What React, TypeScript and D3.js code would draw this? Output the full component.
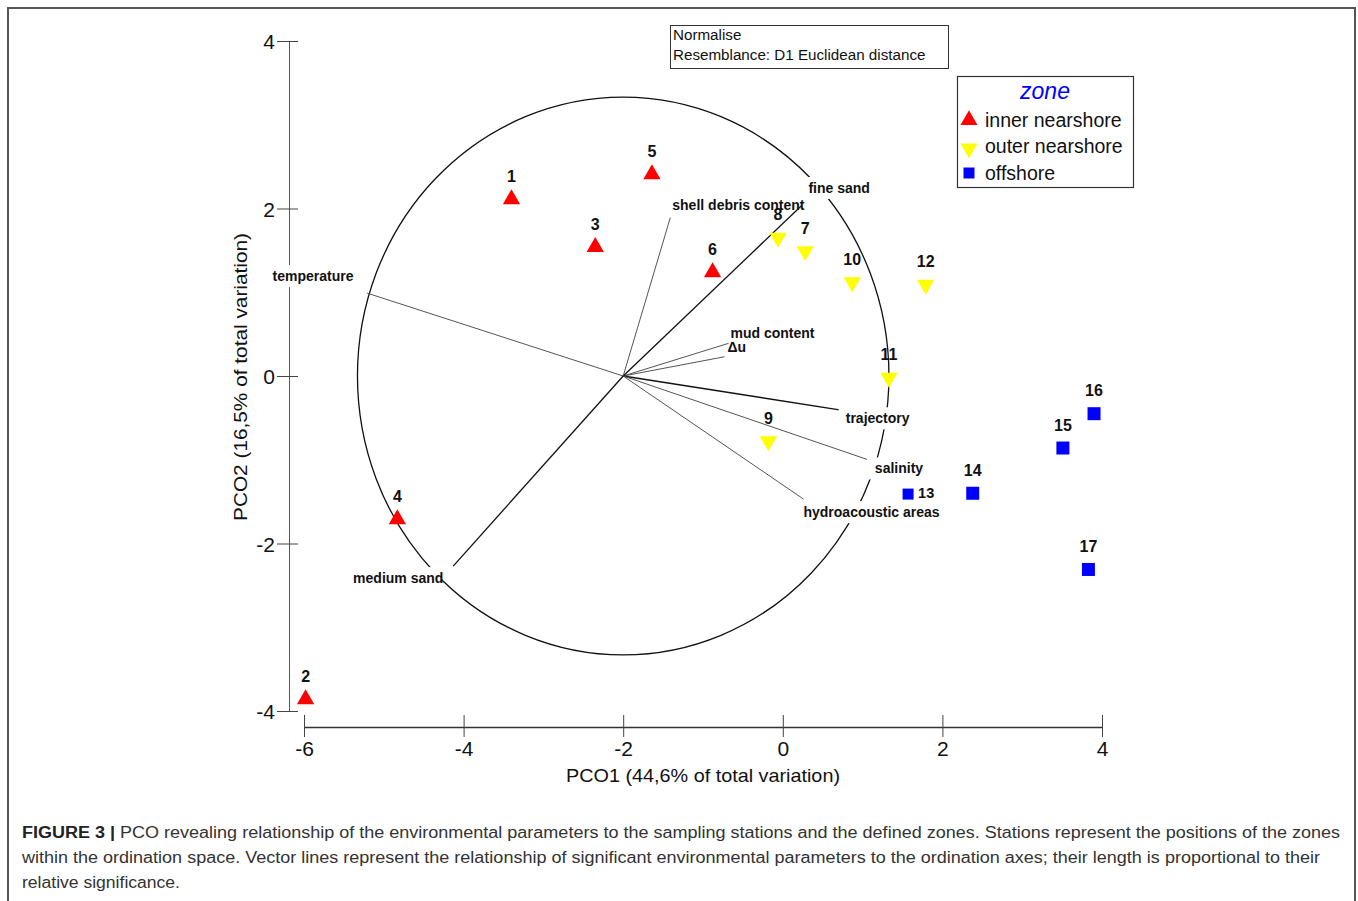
import React, { useEffect, useRef } from "react";
import * as d3 from "d3";

// station scores on PCO1 / PCO2
const stations = ["1", "2", "3", "4", "5", "6", "7", "8", "9", "10", "11", "12", "13", "14", "15", "16", "17"];
const pco1 = [-3.4, -5.98, -2.35, -4.83, -1.64, -0.88, 0.28, -0.06, -0.18, 0.87, 1.33, 1.79, 1.57, 2.38, 3.51, 3.9, 3.83];
const pco2 = [2.11, -3.86, 1.54, -1.71, 2.41, 1.24, 1.49, 1.65, -0.78, 1.12, -0.02, 1.09, -1.41, -1.4, -0.86, -0.45, -2.31];
const zoneOf = [
  "inner nearshore", "inner nearshore", "inner nearshore", "inner nearshore", "inner nearshore", "inner nearshore",
  "outer nearshore", "outer nearshore", "outer nearshore", "outer nearshore", "outer nearshore", "outer nearshore",
  "offshore", "offshore", "offshore", "offshore", "offshore",
];

const zones = ["inner nearshore", "outer nearshore", "offshore"];
const zoneColors = ["#ff0000", "#ffff00", "#0000ff"];

// environmental vectors (end points, origin at circle centre)
const vectorNames = ["temperature", "shell debris content", "fine sand", "mud content", "Δu", "trajectory", "salinity", "hydroacoustic areas", "medium sand"];
const vectorX = [-5.21, -1.41, 0.23, -0.68, -0.73, 0.75, 1.13, 0.26, -4.13];
const vectorY = [0.99, 1.89, 2.03, 0.39, 0.23, -0.41, -1.02, -1.47, -2.27];

const circleCenter = [-2, 0];
const circleRadius = 3.33;

const xTicks = [-6, -4, -2, 0, 2, 4];
const yTicks = [-4, -2, 0, 2, 4];

// label placement for vectors (pixel offsets from end point)
const vecLabelStyle: Record<string, { dx: number; dy: number; anchor: string; bg: boolean; stroke: string; w: number }> = {
  temperature: { dx: -54, dy: -17, anchor: "middle", bg: true, stroke: "#555", w: 1 },
  "shell debris content": { dx: 2, dy: -13, anchor: "start", bg: false, stroke: "#555", w: 1 },
  "fine sand": { dx: 38, dy: -18, anchor: "middle", bg: true, stroke: "#111", w: 1.3 },
  "mud content": { dx: 2, dy: -10, anchor: "start", bg: false, stroke: "#555", w: 1 },
  "Δu": { dx: 3, dy: -10, anchor: "start", bg: false, stroke: "#555", w: 1 },
  trajectory: { dx: 35, dy: 8, anchor: "middle", bg: true, stroke: "#111", w: 1.3 },
  salinity: { dx: 26, dy: 7, anchor: "middle", bg: true, stroke: "#555", w: 1 },
  "hydroacoustic areas": { dx: 68, dy: 13, anchor: "middle", bg: true, stroke: "#555", w: 1 },
  "medium sand": { dx: -55, dy: 12, anchor: "middle", bg: true, stroke: "#111", w: 1.3 },
};

const W = 1358;
const H = 901;
const FONT = "'Liberation Sans', Arial, sans-serif";

const x = d3.scaleLinear().domain([-6, 4]).range([304, 1102]);
const y = d3.scaleLinear().domain([-4, 4]).range([711, 41]);
const yAxisX = 289;
const xAxisY = 727;

const markerPath = (zone: string, small = false) => {
  if (zone === "offshore") return d3.symbol().type(d3.symbolSquare).size(small ? 121 : 169)();
  return d3.symbol().type(d3.symbolTriangle).size(130)();
};

const App = () => {
  const xAxisRef = useRef<SVGGElement>(null);
  const yAxisRef = useRef<SVGGElement>(null);

  useEffect(() => {
    const fmt = (d: any) => String(d);
    const gx = d3.select(xAxisRef.current);
    gx.call(d3.axisBottom(x).tickValues(xTicks).tickSizeOuter(0).tickSize(0).tickFormat(fmt));
    gx.select(".domain").attr("stroke", "#333").attr("stroke-width", 1.5);
    gx.selectAll(".tick line").attr("y1", -12).attr("y2", 10).attr("stroke", "#444");
    gx.selectAll(".tick text")
      .attr("y", 21)
      .attr("dy", "0.36em")
      .attr("font-size", 21)
      .attr("font-family", "'Liberation Sans Narrow', " + FONT)
      .attr("fill", "#111");

    const gy = d3.select(yAxisRef.current);
    gy.call(d3.axisLeft(y).tickValues(yTicks).tickSizeOuter(0).tickSize(0).tickFormat(fmt));
    gy.select(".domain").attr("stroke", "#555").attr("stroke-width", 1);
    gy.selectAll(".tick line").attr("x1", -12).attr("x2", 9).attr("stroke", "#444");
    gy.selectAll(".tick text")
      .attr("x", -14)
      .attr("dy", "0.36em")
      .attr("font-size", 21)
      .attr("font-family", "'Liberation Sans Narrow', " + FONT)
      .attr("fill", "#111");
  }, []);

  const cx = x(circleCenter[0]);
  const cy = y(circleCenter[1]);
  const rx = x(circleCenter[0] + circleRadius) - cx;
  const ry = cy - y(circleCenter[1] + circleRadius);

  return (
    <svg width={W} height={H} style={{ position: "absolute", left: 0, top: 0, background: "#fff" }} fontFamily={FONT}>
      {/* figure frame */}
      <path d={`M8,${H} V8 H1355 V${H}`} fill="none" stroke="#555" strokeWidth={2} />

      {/* axes */}
      <g ref={yAxisRef} transform={`translate(${yAxisX},0)`} />
      <g ref={xAxisRef} transform={`translate(0,${xAxisY})`} />

      {/* correlation circle */}
      <ellipse cx={cx} cy={cy} rx={rx} ry={ry} fill="none" stroke="#111" strokeWidth={1.3} />

      {/* vectors */}
      {vectorNames.map((n, i) => (
        <line key={n} x1={cx} y1={cy} x2={x(vectorX[i])} y2={y(vectorY[i])}
          stroke={vecLabelStyle[n].stroke} strokeWidth={vecLabelStyle[n].w} />
      ))}
      {vectorNames.map((n, i) => {
        const s = vecLabelStyle[n];
        const lx = x(vectorX[i]) + s.dx;
        const ly = y(vectorY[i]) + s.dy;
        const approxW = n.length * 7;
        const left = s.anchor === "middle" ? lx - approxW / 2 : lx;
        return (
          <g key={n}>
            {s.bg && <rect x={left - 4} y={ly - 11} width={approxW + 8} height={22} fill="#fff" />}
            <text x={lx} y={ly} dy="0.35em" textAnchor={s.anchor} fontSize={14} fontWeight="bold" fill="#111">{n}</text>
          </g>
        );
      })}

      {/* stations */}
      {stations.map((s, i) => {
        const z = zoneOf[i];
        const px = x(pco1[i]);
        const py = y(pco2[i]);
        const small = s === "13";
        return (
          <g key={s}>
            <path d={markerPath(z, small)} transform={`translate(${px},${py})${z === "outer nearshore" ? " rotate(180)" : ""}`}
              fill={zoneColors[zones.indexOf(z)]} />
            {small ? (
              <text x={px + 10} y={py - 1} dy="0.35em" fontSize={14.5} fontWeight="bold" fill="#111">{s}</text>
            ) : (
              <text x={px} y={py - 23} dy="0.35em" textAnchor="middle" fontSize={16} fontWeight="bold" fill="#111">{s}</text>
            )}
          </g>
        );
      })}

      {/* info box */}
      <rect x={670.5} y={25.5} width={278} height={43} fill="#fff" stroke="#333" strokeWidth={1} />
      <text x={673} y={35} dy="0.35em" fontSize={15.2} fill="#111">Normalise</text>
      <text x={673} y={55} dy="0.35em" fontSize={15.2} fill="#111">Resemblance: D1 Euclidean distance</text>

      {/* legend */}
      <rect x={957.5} y={76.5} width={176} height={111} fill="#fff" stroke="#333" strokeWidth={1.2} />
      <text x={1045} y={91} dy="0.35em" textAnchor="middle" fontSize={23} fontStyle="italic" fill="#0000ff">zone</text>
      {zones.map((z, i) => (
        <g key={z} transform={`translate(0,${120 + i * 26.5})`}>
          <path d={z === "offshore" ? d3.symbol().type(d3.symbolSquare).size(121)() : d3.symbol().type(d3.symbolTriangle).size(125)()}
            transform={`translate(969,${z === "outer nearshore" ? 2 : 0})${z === "outer nearshore" ? " rotate(180)" : ""}`}
            fill={zoneColors[i]} />
          <text x={985} y={0} dy="0.35em" fontSize={19.5} fill="#111">{z}</text>
        </g>
      ))}

      {/* axis titles */}
      <text x={703} y={775} dy="0.35em" textAnchor="middle" fontSize={19} fill="#111"
        textLength={274} lengthAdjust="spacingAndGlyphs">PCO1 (44,6% of total variation)</text>
      <text transform={`translate(240,377) rotate(-90)`} dy="0.35em" textAnchor="middle" fontSize={19} fill="#111"
        textLength={288} lengthAdjust="spacingAndGlyphs">PCO2 (16,5% of total variation)</text>

      {/* caption */}
      <g fontSize={16} fill="#333">
        <text x={22} y={838} textLength={1318} lengthAdjust="spacingAndGlyphs">
          <tspan fontWeight="bold" fill="#222">FIGURE 3 |</tspan> PCO revealing relationship of the environmental parameters to the sampling stations and the defined zones. Stations represent the positions of the zones
        </text>
        <text x={22} y={863} textLength={1298} lengthAdjust="spacingAndGlyphs">
          within the ordination space. Vector lines represent the relationship of significant environmental parameters to the ordination axes; their length is proportional to their
        </text>
        <text x={22} y={888} textLength={158} lengthAdjust="spacingAndGlyphs">relative significance.</text>
      </g>
    </svg>
  );
};

export default App;
